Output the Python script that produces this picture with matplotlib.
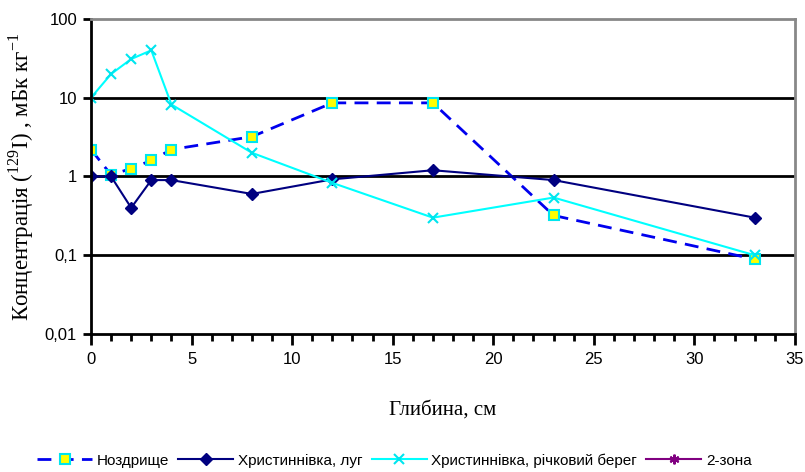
import numpy as np
import matplotlib.pyplot as plt
from matplotlib.ticker import FixedLocator, FuncFormatter, MultipleLocator

plt.rcParams['font.family'] = ['Liberation Sans', 'DejaVu Sans']
plt.rcParams['mathtext.fontset'] = 'custom'
plt.rcParams['mathtext.rm'] = 'Liberation Serif'

# depth, cm
depth = [0, 1, 2, 3, 4, 8, 12, 17, 23, 33]
nozdryshche = [2.2, 1.05, 1.26, 1.6, 2.2, 3.2, 8.6, 8.6, 0.32, 0.089]
khryst_luh = [1.0, 1.0, 0.4, 0.9, 0.9, 0.6, 0.92, 1.2, 0.9, 0.3]
khryst_bereh = [10, 20, 31, 40, 8.2, 2.0, 0.83, 0.3, 0.54, 0.1]
labels = ['Ноздрище', 'Христиннівка, луг', 'Христиннівка, річковий берег', '2-зона']

fig = plt.figure(figsize=(8.05, 4.72), dpi=100)
ax = fig.add_axes([0.113, 0.2924, 0.8745, 0.6674])

ax.plot(depth, nozdryshche, color='#0000ee', ls=(0, (5, 3)), lw=2,
        marker='s', ms=7, mfc='#ffff00', mec='#00e5ee', mew=1.5, label=labels[0])
ax.plot(depth, khryst_luh, color='#000080', lw=1.5,
        marker='D', ms=6, mfc='#000080', mec='#000080', label=labels[1])
ax.plot(depth, khryst_bereh, color='#00ffff', lw=1.5,
        marker='x', ms=7, mew=1.5, mec='#00e5ee', label=labels[2])
ax.plot([], [], color='#800080', lw=1.5, marker=(6, 2, 0), ms=7, mew=1.5, label=labels[3])

ax.set_yscale('log')
ax.set_ylim(0.01, 100)
ax.set_xlim(0, 35)
ax.yaxis.set_major_locator(FixedLocator([0.01, 0.1, 1, 10, 100]))
ax.yaxis.set_minor_locator(FixedLocator([]))
ax.yaxis.set_major_formatter(FuncFormatter(lambda v, p: ('%g' % v).replace('.', ',')))
ax.xaxis.set_major_locator(MultipleLocator(5))
ax.xaxis.set_minor_locator(MultipleLocator(1))

for yv in [0.1, 1, 10]:
    ax.axhline(yv, color='black', lw=2, zorder=0)

for s in ['left', 'bottom']:
    ax.spines[s].set_color('black')
    ax.spines[s].set_linewidth(2)
for s in ['top', 'right']:
    ax.spines[s].set_color('#888888')
    ax.spines[s].set_linewidth(2)

ax.tick_params(axis='y', which='major', direction='out', length=6, width=2, labelsize=12, pad=4)
ax.tick_params(axis='x', which='major', direction='out', length=8, width=2, labelsize=12, pad=5)
ax.tick_params(axis='x', which='minor', direction='out', length=5, width=2)

ax.set_ylabel('Концентрація ($^{129}$I) , мБк кг$^{-1}$', family='Liberation Serif', fontsize=16.5, labelpad=6)
ax.set_xlabel('Глибина, см', family='Liberation Serif', fontsize=15, labelpad=24)

fig.legend(loc='lower center', bbox_to_anchor=(0.49, -0.02), ncol=4, frameon=False,
           fontsize=11, handlelength=3.6, columnspacing=0.6, handletextpad=0.3)

fig.savefig('out.png', dpi=100)
